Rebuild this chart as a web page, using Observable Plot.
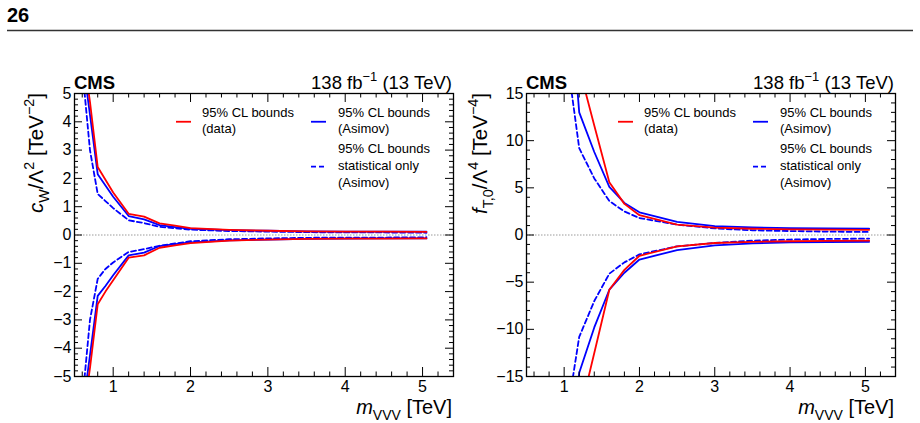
<!DOCTYPE html>
<html>
<head>
<meta charset="utf-8">
<script src="https://cdn.jsdelivr.net/npm/d3@7"></script>
<script src="https://cdn.jsdelivr.net/npm/@observablehq/plot@0.6"></script>
<style>
  body { margin: 0; background: #fff; }
  #page { position: relative; width: 920px; height: 423px; overflow: hidden; background: #fff; }
  #page svg { position: absolute; top: 0; }
</style>
</head>
<body>
<div id="page"></div>
<script>
const FONT = '"Liberation Sans", Arial, Helvetica, sans-serif';

// Mass points (TeV) for the c_W / Lambda^2 limits
const cwMass = [0.6, 0.7, 0.8, 0.9, 1.0, 1.2, 1.4, 1.6, 1.8, 2.0, 2.5, 3.0, 3.5, 4.0, 4.5, 5.05];
// 95% CL bounds on c_W / Lambda^2 (TeV^-2)
const cwDataUpper   = [6.7, 4.7, 2.4, 1.95, 1.5, 0.75, 0.65, 0.41, 0.33, 0.24, 0.18, 0.15, 0.13, 0.12, 0.12, 0.11];
const cwDataLower   = [-6.7, -4.7, -2.45, -2.0, -1.6, -0.8, -0.72, -0.45, -0.37, -0.29, -0.2, -0.16, -0.14, -0.13, -0.13, -0.12];
const cwAsimovUpper = [6.3, 4.25, 2.15, 1.75, 1.35, 0.67, 0.55, 0.35, 0.28, 0.22, 0.17, 0.15, 0.13, 0.12, 0.12, 0.12];
const cwAsimovLower = [-6.3, -4.25, -2.15, -1.8, -1.42, -0.72, -0.62, -0.39, -0.32, -0.26, -0.19, -0.16, -0.14, -0.13, -0.12, -0.12];
const cwStatUpper   = [5.9, 3.0, 1.45, 1.2, 0.95, 0.52, 0.42, 0.29, 0.24, 0.19, 0.14, 0.12, 0.1, 0.09, 0.09, 0.08];
const cwStatLower   = [-5.9, -3.0, -1.55, -1.2, -0.97, -0.6, -0.5, -0.38, -0.3, -0.22, -0.15, -0.12, -0.1, -0.09, -0.09, -0.08];

// Mass points (TeV) for the f_T,0 / Lambda^4 limits
const ftMass = [1.0, 1.2, 1.4, 1.6, 1.8, 2.0, 2.5, 3.0, 3.5, 4.0, 4.5, 5.05];
// 95% CL bounds on f_T,0 / Lambda^4 (TeV^-4)
const ftDataUpper   = [40, 17.7, 11.6, 5.6, 3.3, 2.1, 1.1, 0.78, 0.66, 0.6, 0.57, 0.55];
const ftDataLower   = [-40, -19.2, -12.5, -5.8, -3.7, -2.2, -1.2, -0.85, -0.72, -0.66, -0.62, -0.6];
const ftAsimovUpper = [33, 13, 8.8, 5.1, 3.4, 2.4, 1.4, 0.95, 0.8, 0.72, 0.7, 0.68];
const ftAsimovLower = [-33, -14.6, -9.8, -5.8, -4.0, -2.6, -1.6, -1.1, -0.88, -0.78, -0.74, -0.72];
const ftStatUpper   = [21, 9.2, 6.0, 3.6, 2.5, 1.8, 1.1, 0.7, 0.5, 0.42, 0.36, 0.32];
const ftStatLower   = [-21, -10.8, -7.0, -4.1, -2.9, -2.05, -1.2, -0.85, -0.6, -0.48, -0.42, -0.38];

// Axis ticks
const xMajor = [1, 2, 3, 4, 5];
const xMinor = d3.range(3, 27).map(i => i / 5).filter(v => v % 1 !== 0);
const cwMajor = [-5, -4, -3, -2, -1, 0, 1, 2, 3, 4, 5];
const cwMinor = d3.range(-25, 26).map(i => i / 5).filter(v => v % 1 !== 0);
const ftMajor = [-15, -10, -5, 0, 5, 10, 15];
const ftMinor = d3.range(-15, 16).filter(v => v % 5 !== 0);

// Legend labels
const legendLabels = [
  ["95% CL bounds", "(data)"],
  ["95% CL bounds", "(Asimov)"],
  ["95% CL bounds", "statistical only", "(Asimov)"]
];

const RED = "#ff0000", BLUE = "#0000ff";

// Writes a run of text pieces with italic / subscript / superscript styling
function rich(text, parts, base) {
  let cur = 0;
  parts.forEach(([t, o = {}]) => {
    const shift = o.sub ? 0.28 * base : o.sup ? -0.42 * base : 0;
    const ts = text.append("tspan").text(t).attr("dy", shift - cur);
    cur = shift;
    if (o.sub || o.sup) ts.attr("font-size", 0.7 * base);
    if (o.i) ts.attr("font-style", "italic");
  });
}

function panel(cfg) {
  const W = 460, H = 423, mt = 93, mb = 47;
  const fw = W - cfg.ml - cfg.mr, fh = H - mt - mb;

  const lineMarks = cfg.series.map(s => {
    const rows = cfg.mass.flatMap((m, i) => [
      {m, v: s.upper[i], bound: "upper"},
      {m, v: s.lower[i], bound: "lower"}
    ]);
    return Plot.line(rows, {
      x: "m", y: "v", z: "bound",
      stroke: s.color, strokeWidth: 1.8, strokeDasharray: s.dash, clip: true
    });
  });

  const ticks = (vals, len, dir) => dir === "x"
    ? [Plot.ruleX(vals, {insetTop: fh - len, stroke: "#000", strokeWidth: 1}),
       Plot.ruleX(vals, {insetBottom: fh - len, stroke: "#000", strokeWidth: 1})]
    : [Plot.ruleY(vals, {insetRight: fw - len, stroke: "#000", strokeWidth: 1}),
       Plot.ruleY(vals, {insetLeft: fw - len, stroke: "#000", strokeWidth: 1})];

  const svgEl = Plot.plot({
    width: W, height: H,
    marginLeft: cfg.ml, marginRight: cfg.mr, marginTop: mt, marginBottom: mb,
    style: {fontFamily: FONT, background: "none", color: "#000"},
    x: {domain: [0.5, 5.4]},
    y: {domain: cfg.yDomain},
    marks: [
      Plot.ruleY([0], {stroke: "#9a9a9a", strokeWidth: 1, strokeDasharray: "1.5,1.5"}),
      ...lineMarks,
      ...ticks(xMajor, 9, "x"),
      ...ticks(xMinor, 4.5, "x"),
      ...ticks(cfg.yMajor, 8, "y"),
      ...ticks(cfg.yMinor, 4, "y"),
      Plot.frame({stroke: "#000", strokeWidth: 1.3}),
      Plot.axisX({ticks: xMajor, anchor: "bottom", tickSize: 0, tickPadding: 4, fontSize: 16,
                  tickFormat: d => String(d), label: null}),
      Plot.axisY({ticks: cfg.yMajor, anchor: "left", tickSize: 0, tickPadding: 3, fontSize: 16, label: null})
    ]
  });
  svgEl.style.left = cfg.left + "px";

  const svg = d3.select(svgEl);
  const L = cfg.ml, R = W - cfg.mr;
  const g = svg.append("g").attr("font-family", FONT).attr("fill", "#000")
    .attr("text-anchor", "start");

  // Experiment label and luminosity
  g.append("text").attr("x", L).attr("y", 88.5).attr("font-size", 18.5)
    .attr("font-weight", "bold").text("CMS");
  rich(g.append("text").attr("x", R - 1).attr("y", 88.5).attr("font-size", 18.5)
    .attr("text-anchor", "end"),
    [["138 fb"], ["\u22121", {sup: true}], [" (13 TeV)"]], 18.5);

  // Axis titles
  rich(g.append("text").attr("x", R - 1).attr("y", 414).attr("font-size", 20)
    .attr("text-anchor", "end"),
    [["m", {i: true}], ["VVV", {sub: true}], [" [TeV]"]], 20);
  rich(g.append("text").attr("transform", `translate(${cfg.yTitleX},${mt}) rotate(-90)`)
    .attr("font-size", 20.5).attr("text-anchor", "end"),
    cfg.yTitle, 20.5);

  // Legend
  const lg = g.append("g").attr("font-size", 13);
  const spots = [
    {lx: R - 277, tx: R - 251, y: 116.7},
    {lx: R - 142, tx: R - 115, y: 116.7},
    {lx: R - 142, tx: R - 115, y: 153.3}
  ];
  cfg.series.slice().reverse().forEach((s, k) => {
    const sp = spots[k], lines = legendLabels[k];
    lines.forEach((t, j) => lg.append("text").attr("x", sp.tx).attr("y", sp.y + j * 16.7).text(t));
    const my = sp.y + (lines.length - 1) * 16.7 / 2 - 3.3;
    lg.append("line").attr("x1", sp.lx).attr("x2", sp.lx + 15).attr("y1", my).attr("y2", my)
      .attr("stroke", s.color).attr("stroke-width", 1.8).attr("stroke-dasharray", s.dash);
  });

  document.getElementById("page").appendChild(svgEl);
}

// Series are listed in drawing order: statistical-only, Asimov, data
panel({
  left: 0, ml: 74, mr: 7,
  mass: cwMass, yDomain: [-5, 5], yMajor: cwMajor, yMinor: cwMinor,
  yTitleX: 43,
  yTitle: [["c", {i: true}], ["W", {sub: true}], ["/\u039B"], ["2", {sup: true}], [" [TeV"], ["\u22122", {sup: true}], ["]"]],
  series: [
    {upper: cwStatUpper, lower: cwStatLower, color: BLUE, dash: "5,3"},
    {upper: cwAsimovUpper, lower: cwAsimovLower, color: BLUE, dash: null},
    {upper: cwDataUpper, lower: cwDataLower, color: RED, dash: null}
  ]
});

panel({
  left: 460, ml: 66, mr: 25,
  mass: ftMass, yDomain: [-15, 15], yMajor: ftMajor, yMinor: ftMinor,
  yTitleX: 27,
  yTitle: [["f", {i: true}], ["T,0", {sub: true}], ["/\u039B"], ["4", {sup: true}], [" [TeV"], ["\u22124", {sup: true}], ["]"]],
  series: [
    {upper: ftStatUpper, lower: ftStatLower, color: BLUE, dash: "5,3"},
    {upper: ftAsimovUpper, lower: ftAsimovLower, color: BLUE, dash: null},
    {upper: ftDataUpper, lower: ftDataLower, color: RED, dash: null}
  ]
});

// Page header: page number and rule
const head = d3.select("#page").append("svg").attr("width", 920).attr("height", 40)
  .style("left", "0px");
head.append("text").attr("x", 7).attr("y", 22).attr("font-family", FONT)
  .attr("font-size", 20).attr("font-weight", "bold").text("26");
head.append("line").attr("x1", 7).attr("x2", 913).attr("y1", 30.5).attr("y2", 30.5)
  .attr("stroke", "#333").attr("stroke-width", 1.3);
</script>
</body>
</html>
